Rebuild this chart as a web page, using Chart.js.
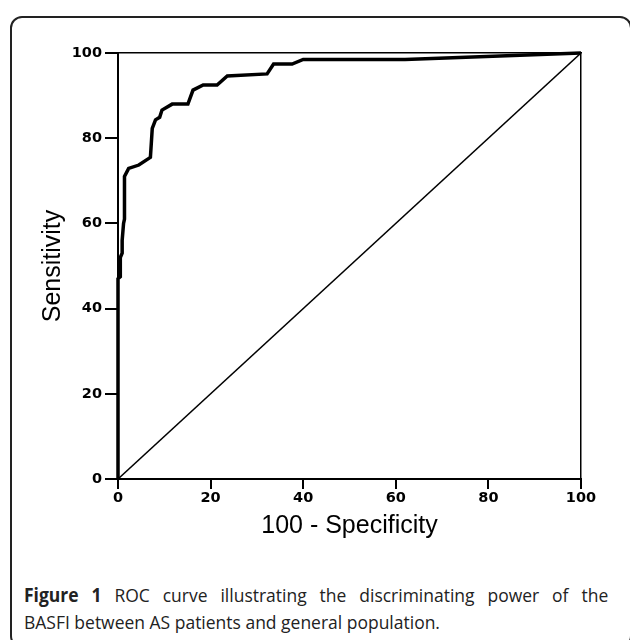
<!DOCTYPE html>
<html>
<head>
<meta charset="utf-8">
<script src="https://cdn.jsdelivr.net/npm/chart.js@4.4.1/dist/chart.umd.min.js"></script>
<style>
  body { margin: 0; background: #fff; overflow: hidden; }
  #page { position: relative; width: 630px; height: 640px; overflow: hidden; background: #fff; }
  #frame {
    position: absolute; left: 10px; top: 16px; width: 622px; height: 632px;
    border: 2px solid #222; border-radius: 12px; box-sizing: border-box;
  }
  #rocChart { position: absolute; left: 0; top: 0; }
  #caption {
    position: absolute; left: 24px; top: 582px; width: 635px;
    font-family: "Open Sans", sans-serif; font-size: 19px; line-height: 27px;
    color: #222; transform: scaleX(0.92); transform-origin: 0 0;
  }
  #caption .first { text-align: justify; text-align-last: justify; white-space: nowrap; }
  #caption b { font-weight: 700; }
</style>
</head>
<body>
<div id="page">
  <div id="frame"></div>
  <canvas id="rocChart" width="630" height="570"></canvas>
  <div id="caption">
    <div class="first"><b>Figure 1</b> ROC curve illustrating the discriminating power of the</div>
    <div>BASFI between AS patients and general population.</div>
  </div>
</div>
<script>
// ROC curve: 100 - specificity vs sensitivity
const fprValues = [0, 0, 0.5, 0.5, 0.9, 0.9, 1.2, 1.4, 1.4, 2.3, 4.5, 7, 7.4, 8.1, 9, 9.5, 11.7, 15.1, 16.2, 18.4, 21.4, 23.6, 32.2, 33.6, 37.6, 40, 62, 100];
const tprValues = [0, 47, 47.5, 52, 53, 56, 60, 61, 71, 72.9, 73.7, 75.5, 82.3, 84.3, 84.9, 86.6, 88, 88, 91.3, 92.5, 92.5, 94.6, 95.1, 97.4, 97.4, 98.5, 98.5, 100];

// reference (chance) line
const diagX = [0, 100];
const diagY = [0, 100];

const tickValues = [0, 20, 40, 60, 80, 100];

function initializeChart() {
    const ctx = document.getElementById('rocChart');
    if (!ctx) {
        console.error('Cannot find chart canvas');
        return;
    }

    const rocPoints = fprValues.map((x, i) => ({x: x, y: tprValues[i]}));
    const diagPoints = diagX.map((x, i) => ({x: x, y: diagY[i]}));

    const tickFont = {family: 'DejaVu Sans', size: 14.5, weight: 'bold'};

    new Chart(ctx, {
        type: 'scatter',
        data: {
            datasets: [
                {
                    label: 'ROC',
                    data: rocPoints,
                    showLine: true,
                    borderColor: '#000',
                    borderWidth: 3.5,
                    pointRadius: 0,
                    tension: 0,
                    clip: 4
                },
                {
                    label: 'Reference',
                    data: diagPoints,
                    showLine: true,
                    borderColor: '#000',
                    borderWidth: 1.5,
                    pointRadius: 0,
                    tension: 0
                }
            ]
        },
        options: {
            responsive: false,
            devicePixelRatio: 1,
            animation: false,
            layout: {padding: {left: 0, top: 53, right: 49, bottom: 0}},
            plugins: {
                legend: {display: false},
                tooltip: {enabled: false}
            },
            scales: {
                x: {
                    type: 'linear',
                    position: 'bottom',
                    min: 0,
                    max: 100,
                    afterFit: scale => { scale.height = 91; },
                    afterBuildTicks: scale => { scale.ticks = tickValues.map(v => ({value: v})); },
                    grid: {drawOnChartArea: false, drawTicks: true, tickLength: 10, color: '#000', lineWidth: 2},
                    border: {display: true, color: '#000', width: 2},
                    ticks: {color: '#000', font: tickFont, padding: 1, maxRotation: 0},
                    title: {
                        display: true,
                        text: '100 - Specificity',
                        color: '#000',
                        font: {family: 'Liberation Sans', size: 25},
                        padding: {top: 0, bottom: 29}
                    }
                },
                y: {
                    type: 'linear',
                    position: 'left',
                    min: 0,
                    max: 100,
                    afterFit: scale => { scale.width = 118; },
                    afterBuildTicks: scale => { scale.ticks = tickValues.map(v => ({value: v})); },
                    grid: {drawOnChartArea: false, drawTicks: true, tickLength: 13, color: '#000', lineWidth: 2},
                    border: {display: true, color: '#000', width: 2},
                    ticks: {color: '#000', font: tickFont, padding: 3},
                    title: {
                        display: true,
                        text: 'Sensitivity',
                        color: '#000',
                        font: {family: 'Liberation Sans', size: 25},
                        padding: {top: 38, bottom: 0}
                    }
                },
                xTop: {
                    type: 'linear',
                    position: 'top',
                    min: 0,
                    max: 100,
                    afterFit: scale => { scale.height = 0; },
                    grid: {display: false},
                    border: {display: true, color: '#000', width: 1.5},
                    ticks: {display: false}
                },
                yRight: {
                    type: 'linear',
                    position: 'right',
                    min: 0,
                    max: 100,
                    afterFit: scale => { scale.width = 0; },
                    grid: {display: false},
                    border: {display: true, color: '#000', width: 1.5},
                    ticks: {display: false}
                }
            }
        }
    });
}

document.addEventListener('DOMContentLoaded', () => {
    initializeChart();
});
</script>
</body>
</html>
